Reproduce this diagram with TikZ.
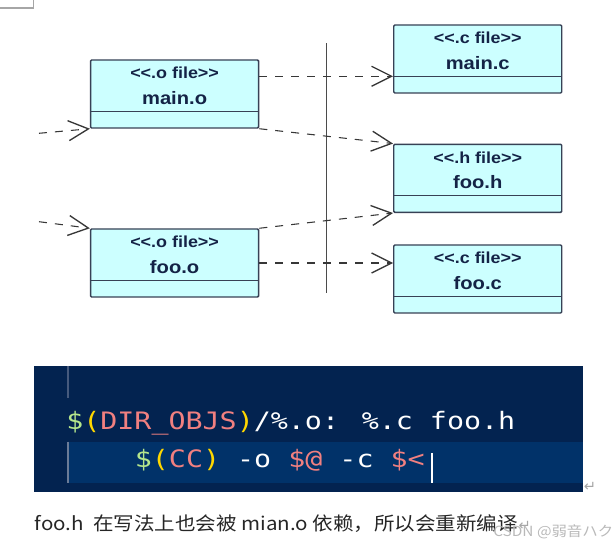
\documentclass[tikz,border=0pt]{standalone}
\usepackage{fontspec}
\usepackage{xcolor}
\usepackage{tikz}
\usetikzlibrary{arrows.meta}
\setmainfont{Liberation Sans}
\newfontfamily\boxfont[FakeStretch=1.12]{Liberation Sans}
\newfontfamily\codefont[FakeStretch=1.18]{DejaVu Sans Mono}
\newfontfamily\cjkfont[FakeStretch=1.1]{Noto Sans CJK SC}
\newfontfamily\symfont{DejaVu Sans}

\definecolor{boxfill}{RGB}{204,255,255}
\definecolor{boxline}{RGB}{55,65,85}
\definecolor{boxtext}{RGB}{20,35,70}
\definecolor{depline}{RGB}{55,55,55}
\definecolor{codebg}{RGB}{3,35,80}
\definecolor{codeband}{RGB}{1,50,105}
\definecolor{codeguide}{RGB}{70,90,125}
\definecolor{codegreen}{RGB}{181,230,140}
\definecolor{codeyellow}{RGB}{255,215,0}
\definecolor{codepink}{RGB}{241,128,128}

\tikzset{
  filebox/.style={draw=boxline,fill=boxfill,line width=1.1pt,rounded corners=0.8pt,
    minimum width=126pt,minimum height=51pt,inner sep=0pt},
  stereo/.style={text=boxtext,font=\boxfont\fontsize{12}{13}\selectfont\bfseries,inner sep=0pt},
  fname/.style={text=boxtext,font=\boxfont\fontsize{13.5}{15}\selectfont\bfseries,inner sep=0pt},
  dep/.style={draw=depline,line width=0.8pt,dash pattern=on 6pt off 6pt,
    -{Straight Barb[length=15pt,width=15pt,line width=1pt]}},
  codeline/.style={anchor=base west,inner sep=0pt,font=\codefont\fontsize{18}{20}\selectfont,text=white},
  retmark/.style={inner sep=0pt,text=gray!70,font=\symfont\fontsize{11}{12}\selectfont}
}

\newcommand{\cg}[1]{\textcolor{codegreen}{#1}}
\newcommand{\cy}[1]{\textcolor{codeyellow}{#1}}
\newcommand{\cp}[1]{\textcolor{codepink}{#1}}

\begin{document}
\begin{tikzpicture}[x=0.75pt,y=0.75pt,yscale=-1,xscale=1]
\useasboundingbox (0,0) rectangle (612,549);

% corner of the page frame
\draw [gray!70,line width=0.8pt] (-2,8) -| (33.3,-2);

% the bar between objects and sources
\draw [depline!90,line width=1pt] (326.6,43.3) -- (326.6,292.7);

% File boxes
\node [filebox] (maino) at (174.6,94) {};
\node [filebox] (fooo) at (174.6,263) {};
\node [filebox] (mainc) at (477.75,59) {};
\node [filebox] (fooh) at (477.75,178.3) {};
\node [filebox] (fooc) at (477.75,279) {};

% compartments and labels (yshift follows yscale=-1, so + is down)
\foreach \f/\st/\nm in {maino/.o/main.o, fooo/.o/foo.o, mainc/.c/main.c, fooh/.h/foo.h, fooc/.c/foo.c}{
  \draw [boxline,line width=1.1pt] ([yshift=-13.1pt]\f.south west) -- ([yshift=-13.1pt]\f.south east);
  \node [stereo] (\f-st) at ([yshift=10.5pt]\f.north) {<{}<\st{} file>{}>};
  \node [fname] (\f-nm) at ([yshift=29.25pt]\f.north) {\nm};
}

\coordinate (mainc-sep) at ([yshift=-13.1pt]mainc.south west);
\coordinate (in-maino) at (39,133.3);
\coordinate (in-fooo) at (39,221.7);

% Dependencies
\draw [dep] (maino.east |- mainc-sep) -- (mainc-sep);
\draw [dep] (maino.south east) -- (fooh.north west);
\draw [dep] (fooo.north east) -- (fooh.south west);
\draw [dep] (fooo.east) -- (fooo.east -| fooc.west);
\draw [dep] (in-maino) -- (maino.south west);
\draw [dep] (in-fooo) -- (fooo.north west);

% Code panel
\fill [codebg] (34.4,366) rectangle (583,492.5);
\fill [codeband] (66.7,441.7) rectangle (583,483.5);
\draw [codeguide,line width=1.2pt] (68,366) -- (68,398);
\draw [codeguide!80!white,line width=1.2pt] (68,441.7) -- (68,483.5);

\node [codeline] (rule) at (66,430) {\cg{\$}\cy{(}\cp{DIR\_OBJS}\cy{)}/\%.o: \%.c foo.h};
\node [codeline] (recipe) at (134.6,468) {\cg{\$}\cy{(}\cp{CC}\cy{)} -o \cp{\$@} -c \cp{\$<}};
\draw [white,line width=1.6pt] (431.7,453) -- (431.7,483);
\node [retmark] (ret1) at (590,487) {↵};

% Text Node
\node [anchor=base west,inner sep=0pt,text=black!85,font=\cjkfont\fontsize{14}{16}\selectfont] (note) at (34.4,531)
  {foo.h\ \ 在写法上也会被 mian.o 依赖，所以会重新编译};
\node [retmark,anchor=base west] (ret2) at (note.base east) {↵};
\node [anchor=base west,inner sep=0pt,text=gray!55,font=\cjkfont\fontsize{10.5}{12}\selectfont] (mark) at (493,537)
  {CSDN @弱音ハク};
\end{tikzpicture}
\end{document}
